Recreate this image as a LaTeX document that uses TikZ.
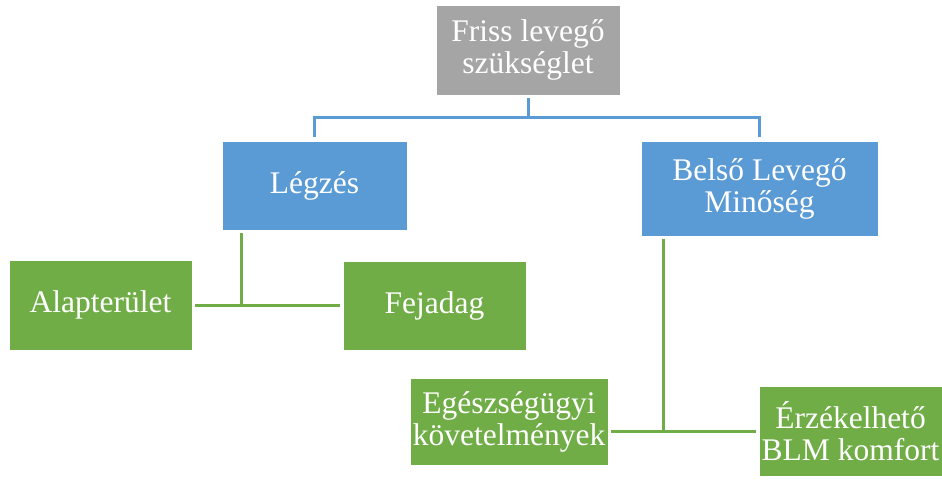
\documentclass[tikz,border=0pt]{standalone}
\usepackage{fontspec}
\setmainfont{Liberation Serif}
\definecolor{boxgray}{HTML}{A5A5A5}
\definecolor{boxblue}{HTML}{5B9BD5}
\definecolor{boxgreen}{HTML}{70AD47}
\begin{document}
\begin{tikzpicture}[x=1pt,y=-1pt,
  box/.style={rectangle, draw=white, line width=0.6pt, text=white, align=center, inner sep=0pt,
     font=\fontsize{31.5}{32}\selectfont},
  graybox/.style={box, fill=boxgray},
  bluebox/.style={box, fill=boxblue},
  greenbox/.style={box, fill=boxgreen},
  blueline/.style={draw=boxblue, line width=3pt},
  greenline/.style={draw=boxgreen, line width=3pt}]
\useasboundingbox[fill=white] (0,0) rectangle (942,481);
\node[graybox, minimum width=184pt, minimum height=90pt] (top) at (528,50) {Friss levegő\\szükséglet};
\node[bluebox, minimum width=185pt, minimum height=89pt] (leg) at (314.5,185.5) {Légzés};
\node[bluebox, minimum width=237pt, minimum height=95pt] (blm) at (759.5,188.5) {Belső Levegő\\Minőség};
\node[greenbox, minimum width=183pt, minimum height=90pt] (alap) at (100.5,305) {Alapterület};
\node[greenbox, minimum width=183pt, minimum height=89pt] (fej) at (434.5,306) {Fejadag};
\node[greenbox, minimum width=198pt, minimum height=87pt] (egesz) at (509,421.5) {Egészségügyi\\követelmények};
\node[greenbox, minimum width=183pt, minimum height=90pt] (erz) at (850.5,431) {Érzékelhető\\BLM komfort};
% blue connectors
\coordinate (tb) at ([yshift=-3pt]top.south);
\coordinate (hb) at (tb |- 0,118);
\draw[blueline] (tb) -- (hb);
\draw[blueline] (hb) -| ([yshift=4pt]leg.north);
\draw[blueline] (hb) -| ([yshift=4pt]blm.north);
% green connectors left
\coordinate (gl) at (241,305);
\draw[greenline] ([yshift=-3pt]leg.south -| gl) -- (gl);
\draw[greenline] ([xshift=3pt]alap.east |- gl) -- ([xshift=-3pt]fej.west |- gl);
% green connectors right
\coordinate (gr) at (663,431);
\draw[greenline] ([yshift=-3pt]blm.south -| gr) -- (gr);
\draw[greenline] ([xshift=3pt]egesz.east |- gr) -- ([xshift=-3pt]erz.west |- gr);
\end{tikzpicture}
\end{document}
